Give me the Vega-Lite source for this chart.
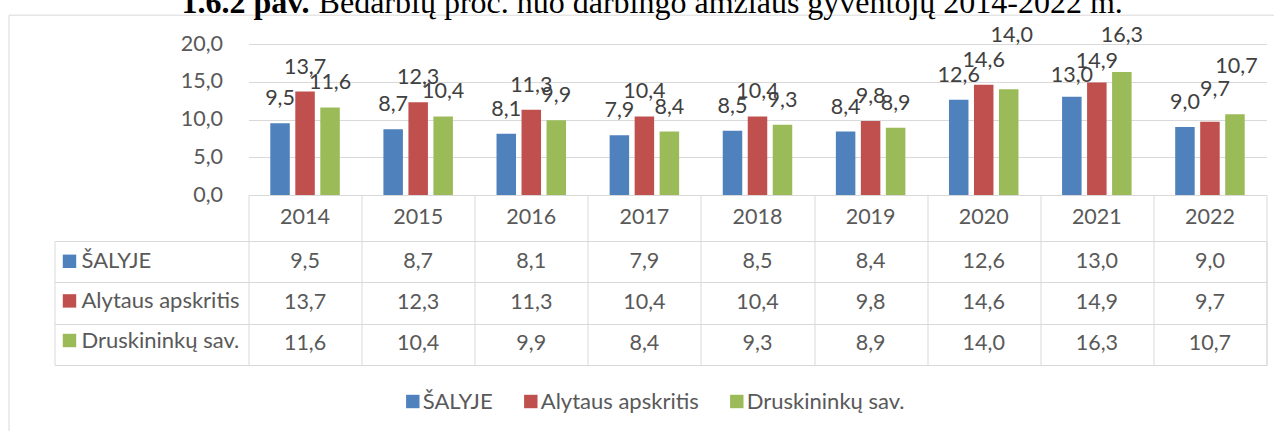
{
  "$schema": "https://vega.github.io/schema/vega-lite/v6.json",
  "background": "white",
  "autosize": {"type": "pad"},
  "padding": {"left": 7.5, "top": -13, "right": -8, "bottom": -356},
  "title": {
    "text": "1.6.2 pav.",
    "subtitle": "\u200b\u2003\u2003\u2003\u2003\u2009\u200aBedarbių proc. nuo darbingo amžiaus gyventojų 2014-2022 m.",
    "anchor": "start",
    "frame": "group",
    "dx": 127,
    "offset": -6,
    "font": "Liberation Serif",
    "fontSize": 32,
    "fontWeight": "bold",
    "color": "#000000",
    "subtitleFont": "Liberation Serif",
    "subtitleFontSize": 32,
    "subtitleFontWeight": "normal",
    "subtitleColor": "#000000",
    "subtitlePadding": -32
  },
  "datasets": {
    "main": [
      {"year": "2014", "series": "ŠALYJE", "value": 9.5},
      {"year": "2015", "series": "ŠALYJE", "value": 8.7},
      {"year": "2016", "series": "ŠALYJE", "value": 8.1},
      {"year": "2017", "series": "ŠALYJE", "value": 7.9},
      {"year": "2018", "series": "ŠALYJE", "value": 8.5},
      {"year": "2019", "series": "ŠALYJE", "value": 8.4},
      {"year": "2020", "series": "ŠALYJE", "value": 12.6},
      {"year": "2021", "series": "ŠALYJE", "value": 13.0},
      {"year": "2022", "series": "ŠALYJE", "value": 9.0},
      {"year": "2014", "series": "Alytaus apskritis", "value": 13.7},
      {"year": "2015", "series": "Alytaus apskritis", "value": 12.3},
      {"year": "2016", "series": "Alytaus apskritis", "value": 11.3},
      {"year": "2017", "series": "Alytaus apskritis", "value": 10.4},
      {"year": "2018", "series": "Alytaus apskritis", "value": 10.4},
      {"year": "2019", "series": "Alytaus apskritis", "value": 9.8},
      {"year": "2020", "series": "Alytaus apskritis", "value": 14.6},
      {"year": "2021", "series": "Alytaus apskritis", "value": 14.9},
      {"year": "2022", "series": "Alytaus apskritis", "value": 9.7},
      {"year": "2014", "series": "Druskininkų sav.", "value": 11.6},
      {"year": "2015", "series": "Druskininkų sav.", "value": 10.4},
      {"year": "2016", "series": "Druskininkų sav.", "value": 9.9},
      {"year": "2017", "series": "Druskininkų sav.", "value": 8.4},
      {"year": "2018", "series": "Druskininkų sav.", "value": 9.3},
      {"year": "2019", "series": "Druskininkų sav.", "value": 8.9},
      {"year": "2020", "series": "Druskininkų sav.", "value": 14.0},
      {"year": "2021", "series": "Druskininkų sav.", "value": 16.3},
      {"year": "2022", "series": "Druskininkų sav.", "value": 10.7}
    ]
  },
  "spacing": 0,
  "bounds": "flush",
  "resolve": {"legend": {"color": "independent"}},
  "vconcat": [
    {
      "width": 1212,
      "height": 151,
      "data": {"name": "main"},
      "encoding": {
        "x": {"field": "year", "type": "ordinal", "scale": {"range": [194, 1212], "paddingInner": 0, "paddingOuter": 0}, "axis": null},
        "xOffset": {"field": "series", "type": "nominal", "scale": {"domain": ["ŠALYJE", "Alytaus apskritis", "Druskininkų sav."], "paddingInner": 0.22, "paddingOuter": 0.872}},
        "y": {"field": "value", "type": "quantitative", "scale": {"domain": [0, 20], "nice": false},
          "axis": {"values": [0, 5, 10, 15, 20], "format": ".1f", "grid": true, "gridColor": "#d9d9d9", "gridWidth": 1, "domain": false, "ticks": false, "labelPadding": 26, "labelFontSize": 21.5, "labelFont": "Lato", "labelColor": "#595959", "offset": -194, "title": null}}
      },
      "layer": [
        {
          "mark": {"type": "bar"},
          "encoding": {
            "color": {"field": "series", "type": "nominal",
              "scale": {"domain": ["ŠALYJE", "Alytaus apskritis", "Druskininkų sav."], "range": ["#4f81bd", "#c0504d", "#9bbb59"]},
              "legend": {"orient": "none", "legendX": -46, "legendY": -29.3, "direction": "horizontal", "title": ".", "titleOrient": "left", "titleOpacity": 0, "titleFontSize": 1, "titlePadding": 16.5, "strokeColor": "#d9d9d9", "padding": 375.8, "symbolType": "square", "symbolSize": 180, "symbolStrokeWidth": 0, "symbolOpacity": 1, "labelFontSize": 22, "labelFont": "Lato", "labelColor": "#595959", "labelOffset": -1, "columnPadding": 27, "labelLimit": 400}}
          }
        },
        {
          "transform": [{"filter": "!((datum.year=='2020' && datum.series=='Druskininkų sav.') || datum.year=='2021' || (datum.year=='2022' && datum.series!='ŠALYJE'))"}],
          "mark": {"type": "text", "dy": -18, "baseline": "alphabetic", "font": "Lato", "fontSize": 21.5, "color": "#404040"},
          "encoding": {"text": {"field": "value", "type": "quantitative", "format": ".1f"}}
        },
        {
          "transform": [{"filter": "datum.year=='2021' && datum.series!='Druskininkų sav.'"}],
          "mark": {"type": "text", "dy": -15, "baseline": "alphabetic", "font": "Lato", "fontSize": 21.5, "color": "#404040"},
          "encoding": {"text": {"field": "value", "type": "quantitative", "format": ".1f"}}
        },
        {
          "transform": [{"filter": "datum.year=='2021' && datum.series=='Druskininkų sav.'"}],
          "mark": {"type": "text", "dy": -29.5, "baseline": "alphabetic", "font": "Lato", "fontSize": 21.5, "color": "#404040"},
          "encoding": {"text": {"field": "value", "type": "quantitative", "format": ".1f"}}
        },
        {
          "transform": [{"filter": "datum.year=='2020' && datum.series=='Druskininkų sav.'"}],
          "mark": {"type": "text", "dy": -47.5, "dx": 3, "baseline": "alphabetic", "font": "Lato", "fontSize": 21.5, "color": "#404040"},
          "encoding": {"text": {"field": "value", "type": "quantitative", "format": ".1f"}}
        },
        {
          "transform": [{"filter": "datum.year=='2022' && datum.series=='Alytaus apskritis'"}],
          "mark": {"type": "text", "dy": -26, "dx": 5, "baseline": "alphabetic", "font": "Lato", "fontSize": 21.5, "color": "#404040"},
          "encoding": {"text": {"field": "value", "type": "quantitative", "format": ".1f"}}
        },
        {
          "transform": [{"filter": "datum.year=='2022' && datum.series=='Druskininkų sav.'"}],
          "mark": {"type": "text", "dy": -41.5, "dx": 1.5, "baseline": "alphabetic", "font": "Lato", "fontSize": 21.5, "color": "#404040"},
          "encoding": {"text": {"field": "value", "type": "quantitative", "format": ".1f"}}
        }
      ]
    },
    {
      "width": 1212,
      "height": 45.7,
      "data": {"name": "main"},
      "transform": [{"aggregate": [{"op": "count", "as": "n"}], "groupby": ["year"]}],
      "mark": {"type": "text", "font": "Lato", "fontSize": 21.5, "color": "#595959", "baseline": "middle"},
      "encoding": {
        "x": {"field": "year", "type": "ordinal", "scale": {"range": [194, 1212], "paddingInner": 0, "paddingOuter": 0},
          "axis": {"grid": true, "tickBand": "extent", "gridColor": "#d9d9d9", "labels": false, "ticks": false, "domain": false, "title": null}},
        "text": {"field": "year"}
      }
    },
    {
      "width": 1212,
      "height": 124,
      "data": {"name": "main"},
      "view": {"stroke": "#d9d9d9", "strokeWidth": 1},
      "layer": [
        {
          "mark": {"type": "text", "font": "Lato", "fontSize": 21.5, "color": "#595959", "baseline": "middle"},
          "encoding": {
            "x": {"field": "year", "type": "ordinal", "scale": {"range": [194, 1212], "paddingInner": 0, "paddingOuter": 0},
              "axis": {"grid": true, "tickBand": "extent", "gridColor": "#d9d9d9", "labels": false, "ticks": false, "domain": false, "title": null}},
            "y": {"field": "series", "type": "nominal", "scale": {"domain": ["ŠALYJE", "Alytaus apskritis", "Druskininkų sav."], "paddingInner": 0, "paddingOuter": 0},
              "axis": {"grid": true, "tickBand": "extent", "gridColor": "#d9d9d9", "labels": false, "ticks": true, "tickSize": 194, "tickColor": "#d9d9d9", "tickWidth": 1, "domain": false, "offset": -194, "title": null}},
            "text": {"field": "value", "type": "quantitative", "format": ".1f"}
          }
        },
        {
          "mark": {"type": "text", "text": ""},
          "encoding": {
            "color": {"field": "series", "type": "nominal",
              "scale": {"domain": ["ŠALYJE", "Alytaus apskritis", "Druskininkų sav."], "range": ["#4f81bd", "#c0504d", "#9bbb59"]},
              "legend": {"orient": "none", "legendX": 4, "legendY": 9.3, "direction": "vertical", "title": null, "symbolType": "square", "symbolSize": 180, "symbolStrokeWidth": 0, "symbolOpacity": 1, "labelFontSize": 22, "labelFont": "Lato", "labelColor": "#595959", "labelOffset": 1, "rowPadding": 17.6, "labelLimit": 400, "padding": 0}}
          }
        }
      ]
    }
  ],
  "config": {
    "locale": {"number": {"decimal": ",", "thousands": " ", "grouping": [3], "currency": ["", " €"]}},
    "font": "Lato",
    "view": {"stroke": null}
  }
}
